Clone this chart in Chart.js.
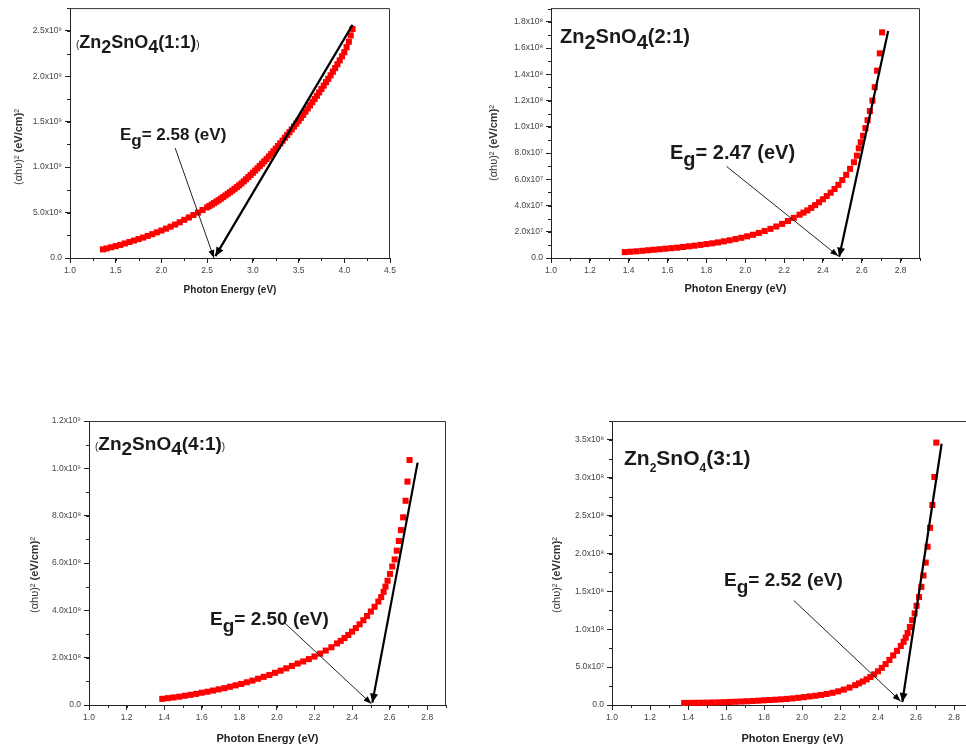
<!DOCTYPE html>
<html>
<head>
<meta charset="utf-8">
<script src="https://cdn.jsdelivr.net/npm/chart.js@4.4.1/dist/chart.umd.min.js"></script>
<style>
  html, body { margin: 0; padding: 0; background: #fff; width: 966px; height: 751px; overflow: hidden; }
  .panel { position: absolute; }
</style>
</head>
<body>
<div class="panel" style="left:0px;top:0px;width:420px;height:300px"><canvas id="c11"></canvas></div>
<div class="panel" style="left:480px;top:0px;width:460px;height:300px"><canvas id="c21"></canvas></div>
<div class="panel" style="left:0px;top:400px;width:460px;height:351px"><canvas id="c41"></canvas></div>
<div class="panel" style="left:520px;top:400px;width:470px;height:351px"><canvas id="c31"></canvas></div>
<script>
// ---- Zn2SnO4 (1:1): photon energy (eV) vs (ahv)^2 in units of 1e9 ----
const energy11 = [1.36, 1.40, 1.45, 1.50, 1.55, 1.60, 1.65, 1.70, 1.75, 1.80, 1.85, 1.90, 1.95, 2.00,
  2.05, 2.10, 2.15, 2.20, 2.25, 2.30, 2.35, 2.40, 2.45, 2.50, 2.525, 2.55, 2.575, 2.60, 2.625, 2.65,
  2.675, 2.70, 2.725, 2.75, 2.775, 2.80, 2.825, 2.85, 2.875, 2.90, 2.925, 2.95, 2.975, 3.00, 3.025,
  3.05, 3.075, 3.10, 3.125, 3.15, 3.175, 3.20, 3.225, 3.25, 3.275, 3.30, 3.325, 3.35, 3.375, 3.40,
  3.425, 3.45, 3.475, 3.50, 3.525, 3.55, 3.575, 3.60, 3.625, 3.65, 3.675, 3.70, 3.725, 3.75, 3.775,
  3.80, 3.825, 3.85, 3.875, 3.90, 3.925, 3.95, 3.975, 4.00, 4.025, 4.05, 4.07, 4.09];
const alpha11 = [0.095, 0.105, 0.118, 0.131, 0.144, 0.160, 0.176, 0.192, 0.208, 0.225, 0.243, 0.262, 0.282, 0.302,
  0.323, 0.345, 0.368, 0.393, 0.420, 0.446, 0.473, 0.500, 0.528, 0.557, 0.572, 0.588, 0.604, 0.620, 0.636, 0.653,
  0.670, 0.688, 0.706, 0.724, 0.742, 0.761, 0.780, 0.800, 0.821, 0.843, 0.866, 0.890, 0.914, 0.938, 0.962,
  0.987, 1.012, 1.038, 1.064, 1.090, 1.117, 1.145, 1.174, 1.203, 1.232, 1.262, 1.292, 1.323, 1.353, 1.384,
  1.415, 1.447, 1.478, 1.510, 1.542, 1.575, 1.610, 1.645, 1.680, 1.715, 1.750, 1.785, 1.822, 1.860, 1.897,
  1.935, 1.972, 2.010, 2.050, 2.090, 2.132, 2.175, 2.220, 2.265, 2.320, 2.380, 2.450, 2.520];
const fitE11 = [4.09, 2.59];
const fitA11 = [2.565, 0.02];
const arrowE11 = [2.15, 2.575];
const arrowA11 = [1.21, 0.0];
const xTicks11 = [1.0, 1.5, 2.0, 2.5, 3.0, 3.5, 4.0, 4.5];
const xLabels11 = ['1.0', '1.5', '2.0', '2.5', '3.0', '3.5', '4.0', '4.5'];
const yTicks11 = [0, 0.5, 1.0, 1.5, 2.0, 2.5];
const yLabels11 = ['0.0', '5.0x10\u2078', '1.0x10\u2079', '1.5x10\u2079', '2.0x10\u2079', '2.5x10\u2079'];

// ---- Zn2SnO4 (2:1): (ahv)^2 in units of 1e7 ----
const energy21 = [1.38, 1.41, 1.44, 1.47, 1.50, 1.53, 1.56, 1.59, 1.62, 1.65, 1.68, 1.71, 1.74, 1.77, 1.80,
  1.83, 1.86, 1.89, 1.92, 1.95, 1.98, 2.01, 2.04, 2.07, 2.10, 2.13, 2.16, 2.19, 2.22, 2.25, 2.28,
  2.30, 2.32, 2.34, 2.36, 2.38, 2.40, 2.42, 2.44, 2.46, 2.48, 2.50, 2.52, 2.54, 2.56, 2.575, 2.585,
  2.595, 2.607, 2.619, 2.630, 2.642, 2.655, 2.667, 2.679, 2.693, 2.705];
const alpha21 = [0.45, 0.48, 0.51, 0.55, 0.59, 0.63, 0.67, 0.71, 0.75, 0.79, 0.84, 0.89, 0.94, 1.00, 1.06,
  1.12, 1.19, 1.27, 1.35, 1.44, 1.54, 1.65, 1.77, 1.91, 2.06, 2.22, 2.40, 2.60, 2.82, 3.06, 3.30,
  3.46, 3.63, 3.82, 4.03, 4.25, 4.48, 4.72, 4.98, 5.26, 5.58, 5.94, 6.34, 6.80, 7.30, 7.80, 8.36,
  8.82, 9.32, 9.90, 10.50, 11.20, 12.00, 13.02, 14.28, 15.60, 17.20];
const fitE21 = [2.736, 2.484];
const fitA21 = [17.3, 0.1];
const arrowE21 = [1.904, 2.479];
const arrowA21 = [6.98, 0.15];
const xTicks21 = [1.0, 1.2, 1.4, 1.6, 1.8, 2.0, 2.2, 2.4, 2.6, 2.8];
const xLabels21 = ['1.0', '1.2', '1.4', '1.6', '1.8', '2.0', '2.2', '2.4', '2.6', '2.8'];
const yTicks21 = [0, 2, 4, 6, 8, 10, 12, 14, 16, 18];
const yLabels21 = ['0.0', '2.0x10\u2077', '4.0x10\u2077', '6.0x10\u2077', '8.0x10\u2077',
  '1.0x10\u2078', '1.2x10\u2078', '1.4x10\u2078', '1.6x10\u2078', '1.8x10\u2078'];

// ---- Zn2SnO4 (4:1): (ahv)^2 in units of 1e8 ----
const energy41 = [1.39, 1.42, 1.45, 1.48, 1.51, 1.54, 1.57, 1.60, 1.63, 1.66, 1.69, 1.72, 1.75, 1.78,
  1.81, 1.84, 1.87, 1.90, 1.93, 1.96, 1.99, 2.02, 2.05, 2.08, 2.11, 2.14, 2.17, 2.20,
  2.23, 2.26, 2.29, 2.32, 2.34, 2.36, 2.38, 2.40, 2.42, 2.44, 2.46, 2.48, 2.50, 2.52, 2.54, 2.555,
  2.568, 2.578, 2.589, 2.602, 2.614, 2.627, 2.638, 2.649, 2.660, 2.672, 2.685, 2.695, 2.706];
const alpha41 = [0.26, 0.29, 0.32, 0.35, 0.39, 0.43, 0.47, 0.52, 0.56, 0.61, 0.66, 0.71, 0.77, 0.83,
  0.89, 0.96, 1.03, 1.11, 1.19, 1.27, 1.36, 1.45, 1.55, 1.65, 1.75, 1.84, 1.94, 2.05,
  2.17, 2.30, 2.44, 2.60, 2.71, 2.83, 2.96, 3.10, 3.25, 3.41, 3.58, 3.76, 3.95, 4.15, 4.37, 4.56,
  4.78, 5.00, 5.25, 5.54, 5.85, 6.15, 6.52, 6.93, 7.39, 7.93, 8.63, 9.44, 10.35];
const fitE41 = [2.749, 2.508];
const fitA41 = [10.24, 0.1];
const arrowE41 = [2.044, 2.503];
const arrowA41 = [3.45, 0.05];
const xTicks41 = [1.0, 1.2, 1.4, 1.6, 1.8, 2.0, 2.2, 2.4, 2.6, 2.8];
const xLabels41 = ['1.0', '1.2', '1.4', '1.6', '1.8', '2.0', '2.2', '2.4', '2.6', '2.8'];
const yTicks41 = [0, 2, 4, 6, 8, 10, 12];
const yLabels41 = ['0.0', '2.0x10\u2078', '4.0x10\u2078', '6.0x10\u2078', '8.0x10\u2078', '1.0x10\u2079', '1.2x10\u2079'];

// ---- Zn2SnO4 (3:1): (ahv)^2 in units of 1e7 ----
const energy31 = [1.38, 1.41, 1.44, 1.47, 1.50, 1.53, 1.56, 1.59, 1.62, 1.65, 1.68, 1.71, 1.74, 1.77, 1.80,
  1.83, 1.86, 1.89, 1.92, 1.95, 1.98, 2.01, 2.04, 2.07, 2.10, 2.13, 2.16, 2.19, 2.22, 2.25, 2.28,
  2.30, 2.32, 2.34, 2.36, 2.38, 2.40, 2.42, 2.44, 2.46, 2.48, 2.50, 2.52, 2.535, 2.546,
  2.556, 2.568, 2.580, 2.593, 2.603, 2.616, 2.628, 2.639, 2.651, 2.661, 2.674, 2.686, 2.697, 2.707];
const alpha31 = [0.27, 0.28, 0.29, 0.30, 0.31, 0.33, 0.35, 0.37, 0.40, 0.43, 0.46, 0.49, 0.53, 0.57, 0.62,
  0.66, 0.70, 0.75, 0.80, 0.87, 0.95, 1.04, 1.13, 1.22, 1.33, 1.46, 1.61, 1.80, 2.03, 2.30, 2.62,
  2.85, 3.10, 3.38, 3.70, 4.05, 4.45, 4.90, 5.40, 5.95, 6.55, 7.15, 7.80, 8.35, 8.90,
  9.50, 10.3, 11.2, 12.1, 13.1, 14.25, 15.6, 17.1, 18.8, 20.9, 23.4, 26.4, 30.1, 34.65];
const fitE31 = [2.735, 2.528];
const fitA31 = [34.5, 0.4];
const arrowE31 = [1.957, 2.519];
const arrowA31 = [13.8, 0.5];
const xTicks31 = [1.0, 1.2, 1.4, 1.6, 1.8, 2.0, 2.2, 2.4, 2.6, 2.8];
const xLabels31 = ['1.0', '1.2', '1.4', '1.6', '1.8', '2.0', '2.2', '2.4', '2.6', '2.8'];
const yTicks31 = [0, 5, 10, 15, 20, 25, 30, 35];
const yLabels31 = ['0.0', '5.0x10\u2077', '1.0x10\u2078', '1.5x10\u2078', '2.0x10\u2078',
  '2.5x10\u2078', '3.0x10\u2078', '3.5x10\u2078'];

const FONT = 'Arial, "Liberation Sans", Helvetica, sans-serif';
const toXY = (xs, ys) => xs.map((x, i) => ({ x, y: ys[i] }));

function drawRuns(ctx, x, y, runs) {
  runs.forEach((r) => {
    ctx.font = r.font;
    ctx.fillText(r.t, x, y + (r.dy || 0));
    x += ctx.measureText(r.t).width;
  });
}

function runsWidth(ctx, runs) {
  return runs.reduce((w, r) => { ctx.font = r.font; return w + ctx.measureText(r.t).width; }, 0);
}

function formulaRuns(ratio, size, parens, subSize, subDy) {
  const big = `bold ${size}px ${FONT}`;
  const sub = `bold ${subSize || size}px ${FONT}`;
  const dy = subDy || Math.round(size * 0.28);
  const runs = [
    { t: 'Zn', font: big }, { t: '2', font: sub, dy }, { t: 'SnO', font: big },
    { t: '4', font: sub, dy }, { t: `(${ratio})`, font: big },
  ];
  if (parens) {
    runs.unshift({ t: '(', font: `10px ${FONT}` });
    runs.push({ t: ')', font: `10px ${FONT}` });
  }
  return runs;
}

function gapRuns(value, size) {
  const f = `bold ${size}px ${FONT}`;
  return [{ t: 'E', font: f }, { t: 'g', font: f, dy: Math.round(size * 0.36) }, { t: `= ${value} (eV)`, font: f }];
}

const yTitleRuns = [
  { t: '(\u03b1h\u03c5)', font: `11px ${FONT}` },
  { t: '\u00b2 ', font: `11px ${FONT}` },
  { t: '(eV/cm)', font: `bold 11px ${FONT}` },
  { t: '\u00b2', font: `11px ${FONT}` },
];

// box, minor ticks, arrow heads and the text labels
const decorPlugin = {
  id: 'decor',
  afterDraw(chart, args, o) {
    const { ctx, chartArea: a, scales: { x, y } } = chart;
    ctx.save();
    ctx.strokeStyle = '#333';
    ctx.lineWidth = 1;
    ctx.beginPath();
    ctx.moveTo(a.left, a.top + 0.5);
    ctx.lineTo(a.right - 0.5, a.top + 0.5);
    ctx.lineTo(a.right - 0.5, a.bottom);
    ctx.stroke();

    ctx.strokeStyle = '#222';
    ctx.beginPath();
    for (let k = 0; ; k++) {
      const v = x.min + k * o.xMinor;
      if (v > x.max + 1e-9) break;
      const px = Math.round(x.getPixelForValue(v)) + 0.5;
      ctx.moveTo(px, a.bottom);
      ctx.lineTo(px, a.bottom + 3);
    }
    for (let k = 0; ; k++) {
      const v = y.min + k * o.yMinor;
      if (v > y.max + 1e-9) break;
      const py = Math.round(y.getPixelForValue(v)) + 0.5;
      ctx.moveTo(a.left - 3, py);
      ctx.lineTo(a.left, py);
    }
    ctx.stroke();

    ctx.fillStyle = '#000';
    o.arrows.forEach((ar) => {
      const pts = chart.getDatasetMeta(ar.ds).data;
      const p0 = pts[pts.length - 2];
      const p1 = pts[pts.length - 1];
      const ang = Math.atan2(p1.y - p0.y, p1.x - p0.x);
      ctx.beginPath();
      ctx.moveTo(p1.x, p1.y);
      ctx.lineTo(p1.x - ar.len * Math.cos(ang) + ar.half * Math.sin(ang), p1.y - ar.len * Math.sin(ang) - ar.half * Math.cos(ang));
      ctx.lineTo(p1.x - ar.len * Math.cos(ang) - ar.half * Math.sin(ang), p1.y - ar.len * Math.sin(ang) + ar.half * Math.cos(ang));
      ctx.closePath();
      ctx.fill();
    });

    ctx.fillStyle = '#1a1a1a';
    ctx.textBaseline = 'alphabetic';
    ctx.textAlign = 'left';
    drawRuns(ctx, o.name.x, o.name.y, o.name.runs);
    drawRuns(ctx, o.gap.x, o.gap.y, o.gap.runs);

    ctx.fillStyle = '#333';
    ctx.translate(o.yTitle.x, o.yTitle.y);
    ctx.rotate(-Math.PI / 2);
    const w = runsWidth(ctx, yTitleRuns);
    drawRuns(ctx, -w / 2, 4, yTitleRuns);
    ctx.restore();
  },
};

const panels = [
  {
    id: 'c11', energy: energy11, alpha: alpha11, fitE: fitE11, fitA: fitA11, arrowE: arrowE11, arrowA: arrowA11,
    xMin: 1.0, xMax: 4.5, xTicks: xTicks11, xLabels: xLabels11, xMinor: 0.25,
    yMax: 2.75, yTicks: yTicks11, yLabels: yLabels11, yMinor: 0.25,
    axisW: 70, axisH: 42, padTop: 6, padRight: 30, xTitleSize: 10, xTitlePad: 4,
    name: { x: 76, y: 48, runs: formulaRuns('1:1', 18, true) },
    gap: { x: 120, y: 140, runs: gapRuns('2.58', 17) },
    yTitle: { x: 18, y: 147 },
  },
  {
    id: 'c21', energy: energy21, alpha: alpha21, fitE: fitE21, fitA: fitA21, arrowE: arrowE21, arrowA: arrowA21,
    xMin: 1.0, xMax: 2.9, xTicks: xTicks21, xLabels: xLabels21, xMinor: 0.1,
    yMax: 19.05, yTicks: yTicks21, yLabels: yLabels21, yMinor: 1,
    axisW: 71, axisH: 42, padTop: 6, padRight: 20, xTitleSize: 11, xTitlePad: 4,
    name: { x: 80, y: 43, runs: formulaRuns('2:1', 20, false) },
    gap: { x: 190, y: 159, runs: gapRuns('2.47', 20) },
    yTitle: { x: 13, y: 143 },
  },
  {
    id: 'c41', energy: energy41, alpha: alpha41, fitE: fitE41, fitA: fitA41, arrowE: arrowE41, arrowA: arrowA41,
    xMin: 1.0, xMax: 2.9, xTicks: xTicks41, xLabels: xLabels41, xMinor: 0.1,
    yMax: 12, yTicks: yTicks41, yLabels: yLabels41, yMinor: 1,
    axisW: 89, axisH: 46, padTop: 21, padRight: 14, xTitleSize: 11, xTitlePad: 5,
    name: { x: 95, y: 50, runs: formulaRuns('4:1', 19, true) },
    gap: { x: 210, y: 225, runs: gapRuns('2.50', 19) },
    yTitle: { x: 34, y: 175 },
  },
  {
    id: 'c31', energy: energy31, alpha: alpha31, fitE: fitE31, fitA: fitA31, arrowE: arrowE31, arrowA: arrowA31,
    xMin: 1.0, xMax: 2.9, xTicks: xTicks31, xLabels: xLabels31, xMinor: 0.1,
    yMax: 37.5, yTicks: yTicks31, yLabels: yLabels31, yMinor: 2.5,
    axisW: 92, axisH: 46, padTop: 21, padRight: 17, xTitleSize: 11, xTitlePad: 5,
    name: { x: 104, y: 65, runs: formulaRuns('3:1', 21, false, 12, 7) },
    gap: { x: 204, y: 186, runs: gapRuns('2.52', 19) },
    yTitle: { x: 36, y: 175 },
  },
];

function buildPanel(p) {
  const tickFont = { family: FONT, size: 8.5 };
  const grid = { drawOnChartArea: false, drawTicks: true, tickLength: 5, tickColor: '#222', tickWidth: 1 };
  const border = { display: true, color: '#222', width: 1 };
  return new Chart(document.getElementById(p.id), {
    type: 'scatter',
    data: {
      datasets: [
        { data: toXY(p.fitE, p.fitA), showLine: true, borderColor: '#000', borderWidth: 2.2, pointRadius: 0, clip: false },
        { data: toXY(p.arrowE, p.arrowA), showLine: true, borderColor: '#222', borderWidth: 1, pointRadius: 0, clip: false },
        {
          data: toXY(p.energy, p.alpha), pointStyle: 'rect', pointRadius: 4.3, pointBackgroundColor: '#ff0000',
          backgroundColor: '#ff0000', pointBorderWidth: 0, borderWidth: 0, clip: false,
        },
      ],
    },
    options: {
      responsive: true,
      maintainAspectRatio: false,
      animation: false,
      events: [],
      layout: { autoPadding: false, padding: { top: p.padTop, right: p.padRight, left: 0, bottom: 0 } },
      plugins: {
        legend: { display: false },
        tooltip: { enabled: false },
        decor: {
          xMinor: p.xMinor, yMinor: p.yMinor, name: p.name, gap: p.gap, yTitle: p.yTitle,
          arrows: [{ ds: 0, len: 9, half: 4 }, { ds: 1, len: 8, half: 3 }],
        },
      },
      scales: {
        x: {
          type: 'linear', min: p.xMin, max: p.xMax,
          afterBuildTicks: (s) => { s.ticks = p.xTicks.map((v) => ({ value: v })); },
          afterFit: (s) => { s.height = p.axisH; },
          ticks: { callback: (v, i) => p.xLabels[i], autoSkip: false, maxRotation: 0, font: tickFont, color: '#444', padding: 3 },
          grid, border,
          title: {
            display: true, text: 'Photon Energy (eV)', color: '#222',
            font: { family: FONT, size: p.xTitleSize, weight: 'bold' }, padding: { top: 0, bottom: p.xTitlePad },
          },
        },
        y: {
          type: 'linear', min: 0, max: p.yMax,
          afterBuildTicks: (s) => { s.ticks = p.yTicks.map((v) => ({ value: v })); },
          afterFit: (s) => { s.width = p.axisW; },
          ticks: { callback: (v, i) => p.yLabels[i], autoSkip: false, font: tickFont, color: '#444', padding: 3 },
          grid, border,
        },
      },
    },
    plugins: [decorPlugin],
  });
}

panels.forEach(buildPanel);
</script>
</body>
</html>
